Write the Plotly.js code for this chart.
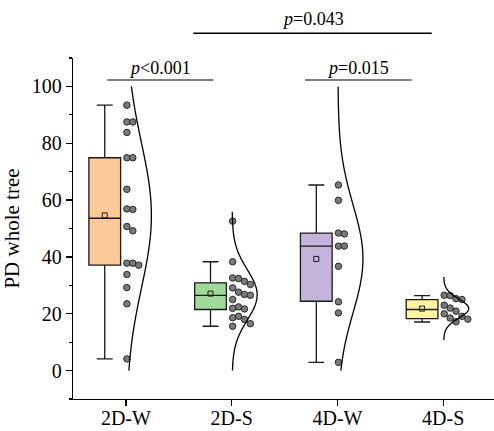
<!DOCTYPE html>
<html>
<head>
<meta charset="utf-8">
<script src="https://cdn.plot.ly/plotly-3.0.1.min.js"></script>
<style>html,body{margin:0;padding:0;background:#fff;}#chart{width:494px;height:431px;}</style>
</head>
<body>
<div id="chart"></div>
<script>
// ---- data ----
const categories = ['2D-W', '2D-S', '4D-W', '4D-S'];
const vals2DW = [93.4, 87.5, 87.5, 83.8, 74.9, 74.9, 63.8, 56.9, 56.7, 50.7, 49.2, 37.8, 37.8, 37.1, 33.8, 29.2, 23.5, 4.1];
const vals2DS = [52.6, 38.3, 32.6, 32.4, 31.4, 30.3, 29.1, 27.6, 26.8, 26.5, 25.0, 22.4, 21.9, 21.7, 19.1, 18.6, 18.0, 16.5, 15.6];
const vals4DW = [65.3, 59.9, 48.4, 48.1, 43.8, 43.8, 36.7, 24.2, 20.3, 2.9];
const vals4DS = [26.5, 26.4, 25.3, 25.0, 23.0, 22.0, 20.9, 20.0, 19.1, 18.5, 18.1, 17.2];
const boxQ1 = [37.1, 21.5, 24.4, 18.3];
const boxMedian = [53.6, 26.5, 43.8, 21.5];
const boxQ3 = [74.9, 30.9, 48.4, 25.0];
const boxLower = [4.1, 15.6, 2.9, 17.1];
const boxUpper = [93.4, 38.3, 65.3, 26.4];
const boxMean = [54.6, 27.1, 39.3, 21.8];
const yTickVals = [0, 20, 40, 60, 80, 100];
const pLabels = ['<i>p</i>&lt;0.001', '<i>p</i>=0.015', '<i>p</i>=0.043'];

// ---- styles ----
const groups = [vals2DW, vals2DS, vals4DW, vals4DS];
const fills = ['#FCCA98', '#A0D99B', '#C4B4D9', '#FFF49E'];
const FONT = 'Liberation Serif, Times New Roman, serif';
const xRange = [-0.5, 3.48];
const yRange = [-10, 110];
const plotW = 494 - 73, plotH = 431 - 58 - 32;
const pxX = plotW / (xRange[1] - xRange[0]);
const pxY = plotH / (yRange[1] - yRange[0]);

const traces = [];
categories.forEach((c, i) => {
  traces.push({
    type: 'box', x: [i - 0.2], q1: [boxQ1[i]], median: [boxMedian[i]], q3: [boxQ3[i]],
    lowerfence: [boxLower[i]], upperfence: [boxUpper[i]],
    width: 0.3, whiskerwidth: 0.5, boxpoints: false,
    fillcolor: fills[i], line: {color: '#1a1a1a', width: 1.3},
    hoverinfo: 'skip', showlegend: false
  });
  traces.push({
    type: 'scatter', mode: 'markers', x: [i - 0.2], y: [boxMean[i]],
    marker: {symbol: 'square-open', size: 5, color: '#1a1a1a', line: {width: 1}},
    hoverinfo: 'skip', showlegend: false
  });
});

// beeswarm placement of the points
categories.forEach((c, i) => {
  const vals = groups[i].slice().sort((a, b) => b - a);
  const slots = [];
  const xs = [], ys = [];
  const minDist = 3.0; // data units
  const step = 5.9 / pxX;
  vals.forEach(v => {
    let k = 0;
    while (true) {
      if (!slots[k]) slots[k] = [];
      if (slots[k].every(u => Math.abs(u - v) >= minDist - 1e-9)) break;
      k++;
    }
    slots[k].push(v);
    xs.push(i + 1 / pxX + k * step);
    ys.push(v);
  });
  traces.push({
    type: 'scatter', mode: 'markers', x: xs, y: ys,
    marker: {size: 6.5, color: '#7a7a7a', line: {color: '#2a2a2a', width: 1}},
    hoverinfo: 'skip', showlegend: false
  });
});

// fitted normal curves
categories.forEach((c, i) => {
  const v = groups[i];
  const n = v.length;
  const m = v.reduce((a, b) => a + b, 0) / n;
  const s = Math.sqrt(v.reduce((a, b) => a + (b - m) * (b - m), 0) / (n - 1));
  const lo = Math.max(0, m - 3.3 * s), hi = Math.min(100, m + 3.3 * s);
  const xs = [], ys = [];
  const N = 150;
  for (let j = 0; j <= N; j++) {
    const y = lo + (hi - lo) * j / N;
    const z = (y - m) / s;
    xs.push(i + 0.005 + 0.236 * Math.exp(-0.5 * z * z));
    ys.push(y);
  }
  traces.push({
    type: 'scatter', mode: 'lines', x: xs, y: ys,
    line: {color: '#000', width: 1.3, shape: 'spline'},
    hoverinfo: 'skip', showlegend: false
  });
});

function px2paperX(px) { return (px - 73) / plotW; }
function px2paperY(py) { return (58 + plotH - py) / plotH; }

const shapes = [
  {type: 'line', xref: 'paper', yref: 'paper', x0: px2paperX(107.3), x1: px2paperX(213.3), y0: px2paperY(80), y1: px2paperY(80), line: {color: '#555', width: 1.5}},
  {type: 'line', xref: 'paper', yref: 'paper', x0: px2paperX(305), x1: px2paperX(411.7), y0: px2paperY(80), y1: px2paperY(80), line: {color: '#555', width: 1.5}},
  {type: 'line', xref: 'paper', yref: 'paper', x0: px2paperX(193.3), x1: px2paperX(431.7), y0: px2paperY(33.3), y1: px2paperY(33.3), line: {color: '#000', width: 1.5}}
];
const annotations = [
  {text: pLabels[0], xref: 'paper', yref: 'paper', x: px2paperX(160), y: px2paperY(68), xanchor: 'center', yanchor: 'middle', showarrow: false, font: {family: FONT, size: 18, color: '#000'}},
  {text: pLabels[1], xref: 'paper', yref: 'paper', x: px2paperX(358.3), y: px2paperY(68), xanchor: 'center', yanchor: 'middle', showarrow: false, font: {family: FONT, size: 18, color: '#000'}},
  {text: pLabels[2], xref: 'paper', yref: 'paper', x: px2paperX(313.3), y: px2paperY(19), xanchor: 'center', yanchor: 'middle', showarrow: false, font: {family: FONT, size: 18, color: '#000'}}
];

const layout = {
  width: 494, height: 431,
  margin: {l: 73, r: 0, t: 58, b: 32, pad: 0},
  paper_bgcolor: '#fff', plot_bgcolor: '#fff',
  boxmode: 'overlay', showlegend: false,
  font: {family: FONT, size: 20, color: '#000'},
  xaxis: {
    range: xRange, tickvals: [0, 1, 2, 3], ticktext: categories,
    showgrid: false, zeroline: false, showline: true, linecolor: '#000', linewidth: 1.3,
    ticks: 'outside', ticklen: 6, tickwidth: 1.3, tickcolor: '#000',
    ticklabelstandoff: -5,
    tickfont: {family: FONT, size: 20, color: '#000'}
  },
  yaxis: {
    range: yRange, tickvals: yTickVals,
    showgrid: false, zeroline: false, showline: true, linecolor: '#000', linewidth: 1.3,
    ticks: 'outside', ticklen: 6, tickwidth: 1.3, tickcolor: '#000',
    minor: {tickvals: [-10, 10, 30, 50, 70, 90, 110], ticks: 'outside', ticklen: 3, tickwidth: 1.3, tickcolor: '#000', showgrid: false},
    tickfont: {family: FONT, size: 20, color: '#000'},
    title: {text: 'PD whole tree', font: {family: FONT, size: 21, color: '#000'}, standoff: 6}
  },
  shapes: shapes, annotations: annotations
};

Plotly.newPlot('chart', traces, layout, {displayModeBar: false, staticPlot: true});
</script>
</body>
</html>
